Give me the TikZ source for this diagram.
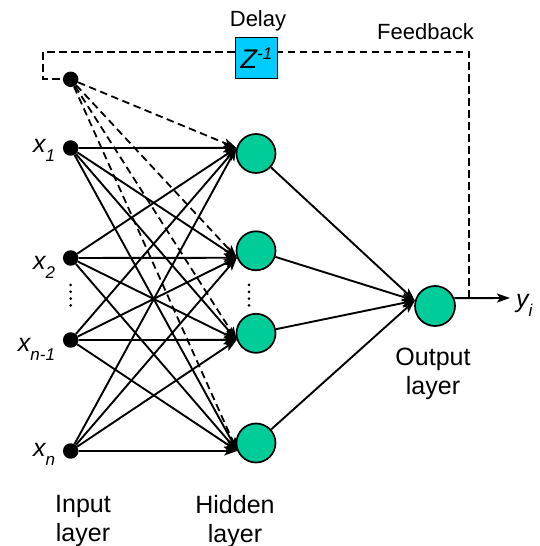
\documentclass[tikz,border=0pt]{standalone}
\usepackage{fontspec}
\setmainfont{Liberation Sans}
\usetikzlibrary{arrows.meta}

\newcommand{\lsub}[1]{\raisebox{-8.5pt}{\fontsize{17}{17}\selectfont #1}}
\newcommand{\lsup}[1]{\raisebox{9.5pt}{\fontsize{17}{17}\selectfont #1}}

\tikzset{
  inode/.style={circle, fill=black, inner sep=0pt, minimum size=15.5pt},
  neuron/.style={circle, draw=black, line width=1.7pt, fill=neuronColor, inner sep=0pt, minimum size=39pt},
  delaybox/.style={draw=black, line width=1.7pt, fill=delayColor, inner sep=0pt, minimum width=42pt, minimum height=41pt},
  wire/.style={line width=1.9pt, -{Stealth[length=13pt,width=9pt,inset=3pt]}},
  fbwire/.style={line width=1.8pt, dash pattern=on 7.5pt off 4.5pt},
  dotcol/.style={line width=3pt, line cap=round, dash pattern=on 0pt off 6.8pt},
  lbl/.style={text=black, inner sep=0pt, outer sep=0pt},
  varfont/.style={font=\fontsize{25}{25}\selectfont\itshape},
  smallfont/.style={font=\fontsize{22}{26}\selectfont},
  layerfont/.style={font=\fontsize{25}{29}\selectfont, align=center, anchor=north}
}

\begin{document}
\begin{tikzpicture}[x=1pt,y=1pt]
\definecolor{neuronColor}{RGB}{0,204,153}
\definecolor{delayColor}{RGB}{0,204,255}
\path[use as bounding box,fill=white] (0,0) rectangle (539,546);

\node[inode] (bias) at ( 70.7,466.7) {};
\node[inode] (x1) at ( 70.7,398.0) {};
\node[inode] (x2) at ( 70.7,288.0) {};
\node[inode] (xn1) at ( 70.7,206.0) {};
\node[inode] (xn) at ( 70.7, 95.0) {};

\node[neuron] (h1) at (256.0,392.5) {};
\node[neuron] (h2) at (256.0,295.2) {};
\node[neuron] (h3) at (256.0,212.7) {};
\node[neuron] (h4) at (256.0,103.0) {};

\node[neuron,minimum size=40pt] (out) at (435.0,240.0) {};

\node[delaybox,font=\fontsize{27}{30}\selectfont\itshape] (delay) at (256.5,488.0) {Z\lsup{-1}};

\node[lbl,smallfont,anchor=base] (delaylbl) at (258.0,519.0) {Delay};
\node[lbl,smallfont,anchor=base] (fblbl) at (425.5,506.0) {Feedback};

\node[lbl,varfont,anchor=base east] (lx1) at ( 55.0,393.0) {x\lsub{1}};
\node[lbl,varfont,anchor=base east] (lx2) at ( 55.0,276.0) {x\lsub{2}};
\node[lbl,varfont,anchor=base east] (lxn1) at ( 55.0,194.3) {x\lsub{n-1}};
\node[lbl,varfont,anchor=base east] (lxn) at ( 55.0, 89.3) {x\lsub{n}};
\node[lbl,varfont,anchor=base west] (lyi) at (516.0,238.0) {y\lsub{i}};

\node[lbl,layerfont] (inlbl) at ( 83.0, 51.0) {Input\\layer};
\node[lbl,layerfont] (hidlbl) at (235.0, 51.0) {Hidden\\layer};
\node[lbl,layerfont] (outlbl) at (433.0,198.0) {Output\\layer};

\coordinate (fb) at (469.0,248.0);
\coordinate (fbtop) at (469.0,494.0);
\coordinate (fbleft) at ( 43.0,494.0);
\coordinate (yend) at (510.0,248.0);

\draw[wire] (x1) -- (h1.164);
\draw[wire] (x1) -- (h2.200);
\draw[wire] (x1) -- (h3.199);
\draw[wire] (x1) -- (h4.203);
\draw[wire] (x2) -- (h1.164);
\draw[wire] (x2) -- (h2.200);
\draw[wire] (x2) -- (h3.199);
\draw[wire] (x2) -- (h4.203);
\draw[wire] (xn1) -- (h1.164);
\draw[wire] (xn1) -- (h2.200);
\draw[wire] (xn1) -- (h3.199);
\draw[wire] (xn1) -- (h4.203);
\draw[wire] (xn) -- (h1.164);
\draw[wire] (xn) -- (h2.200);
\draw[wire] (xn) -- (h3.199);
\draw[wire] (xn) -- (h4.203);

\draw[wire,fbwire] (bias) -- (h1.164);
\draw[wire,fbwire] (bias) -- (h2.200);
\draw[wire,fbwire] (bias) -- (h3.199);
\draw[wire,fbwire] (bias) -- (h4.203);

\draw[wire] (h1) -- (out.165);
\draw[wire] (h2) -- (out.165);
\draw[wire] (h3) -- (out.165);
\draw[wire] (h4) -- (out.165);

\draw[wire] (out.22) -- (yend);
\draw[fbwire] (fb) -- (fbtop) -- (fbtop -| delay.east);
\draw[fbwire] (delay.west |- fbtop) -- (fbleft) |- (bias);

\draw[dotcol] ( 70.7,261.0) -- ( 70.7,239.0);
\draw[dotcol] (249.0,261.0) -- (249.0,239.0);
\end{tikzpicture}
\end{document}
